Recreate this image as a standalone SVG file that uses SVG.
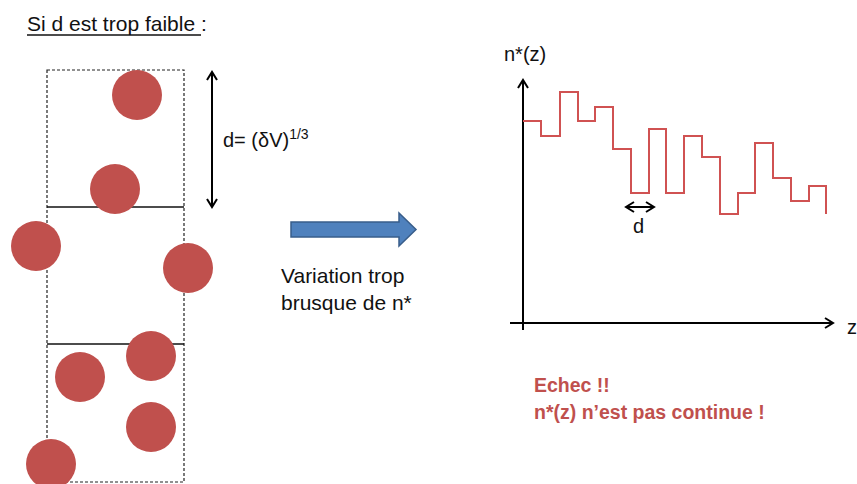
<svg xmlns="http://www.w3.org/2000/svg" width="857" height="484" viewBox="0 0 857 484">
<style>
.t{font-family:"Liberation Sans",Arial,sans-serif;font-size:21px;fill:#111}
.s{font-family:"Liberation Sans",Arial,sans-serif;font-size:20px;fill:#111}
.r{font-family:"Liberation Sans",Arial,sans-serif;font-size:19.5px;font-weight:bold;fill:#C0504D}
.ball{fill:#C0504D}
.ax{stroke:#000;stroke-width:2;fill:none}
</style>
<defs>
<marker id="ah" viewBox="0 0 12 12" refX="10" refY="6" markerWidth="12" markerHeight="12" markerUnits="userSpaceOnUse" orient="auto-start-reverse">
<path d="M2,1 L10,6 L2,11" fill="none" stroke="#000" stroke-width="2"/>
</marker>
</defs>
<rect width="857" height="484" fill="#fff"/>
<g id="title">
<text class="t" x="27" y="31">Si d est trop faible :</text>
<line x1="27" y1="35" x2="201" y2="35" stroke="#111" stroke-width="1.3"/>
</g>
<g id="box">
<rect x="47" y="70" width="137" height="412" fill="none" stroke="#222" stroke-width="1.2" stroke-dasharray="3,2"/>
<line x1="47" y1="207" x2="184" y2="207" stroke="#111" stroke-width="1.5"/>
<line x1="47" y1="344" x2="184" y2="344" stroke="#111" stroke-width="1.5"/>
</g>
<g id="particles">
<circle class="ball" cx="137" cy="95" r="25"/>
<circle class="ball" cx="115" cy="189" r="25"/>
<circle class="ball" cx="36" cy="246" r="25"/>
<circle class="ball" cx="188" cy="268" r="25"/>
<circle class="ball" cx="151" cy="356" r="25"/>
<circle class="ball" cx="80" cy="377" r="25"/>
<circle class="ball" cx="151" cy="427" r="25"/>
<circle class="ball" cx="51" cy="464" r="25"/>
</g>
<g id="connectors">
<line x1="212" y1="72" x2="212" y2="207" stroke="#000" stroke-width="2" marker-start="url(#ah)" marker-end="url(#ah)"/>
<path d="M291,222 H399 V213 L416,229.5 L399,246 V237 H291 Z" fill="#4F81BD" stroke="#385D8A" stroke-width="1.5"/>
<line x1="626" y1="207" x2="654" y2="207" stroke="#000" stroke-width="2" marker-start="url(#ah)" marker-end="url(#ah)"/>
</g>
<g id="dlabel">
<text class="s" x="223" y="147">d= (δV)<tspan font-size="14" dy="-8">1/3</tspan></text>
</g>
<g id="variation">
<text class="t" x="281" y="283">Variation trop</text>
<text class="t" x="281" y="310">brusque de n*</text>
</g>
<g id="graph">
<line class="ax" x1="523" y1="330" x2="523" y2="80" marker-end="url(#ah)"/>
<line class="ax" x1="510" y1="323" x2="833" y2="323" marker-end="url(#ah)"/>
<text class="s" x="504" y="61">n*(z)</text>
<text class="s" x="847" y="334">z</text>
<path d="M523,121 H541 V136 H560 V92 H578 V121 H595 V107 H613 V149 H631 V193 H649 V129 H666 V193 H684 V136 H702 V157 H720 V214 H738 V193 H755 V143 H773 V178 H791 V201 H809 V186 H826 V214" fill="none" stroke="#D05252" stroke-width="2"/>
<text class="s" x="633" y="233">d</text>
</g>
<g id="echec">
<text class="r" x="534" y="392">Echec !!</text>
<text class="r" x="534" y="419">n*(z) n’est pas continue !</text>
</g>
</svg>
